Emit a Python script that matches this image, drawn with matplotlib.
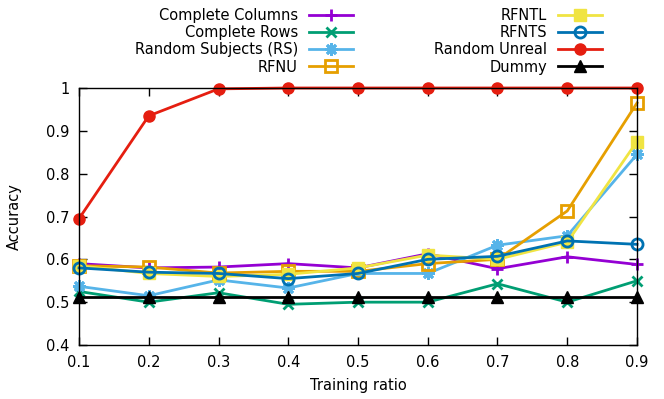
import matplotlib
matplotlib.use("Agg")
import matplotlib.pyplot as plt

ratios = [0.1, 0.2, 0.3, 0.4, 0.5, 0.6, 0.7, 0.8, 0.9]
complete_columns = [0.590, 0.580, 0.582, 0.590, 0.580, 0.613, 0.578, 0.606, 0.588]
complete_rows = [0.525, 0.500, 0.522, 0.495, 0.500, 0.500, 0.543, 0.500, 0.550]
random_subjects = [0.537, 0.515, 0.552, 0.533, 0.567, 0.567, 0.633, 0.655, 0.845]
rfnu = [0.585, 0.582, 0.568, 0.572, 0.572, 0.590, 0.600, 0.713, 0.965]
rfntl = [0.585, 0.567, 0.560, 0.565, 0.580, 0.610, 0.600, 0.640, 0.875]
rfnts = [0.580, 0.570, 0.567, 0.555, 0.567, 0.600, 0.607, 0.643, 0.635]
random_unreal = [0.695, 0.935, 0.998, 1.0, 1.0, 1.0, 1.0, 1.0, 1.0]
dummy = [0.513, 0.513, 0.513, 0.513, 0.513, 0.513, 0.513, 0.513, 0.513]

xticks = [0.1, 0.2, 0.3, 0.4, 0.5, 0.6, 0.7, 0.8, 0.9]
yticks = [0.4, 0.5, 0.6, 0.7, 0.8, 0.9, 1.0]
ytick_labels = ["0.4", "0.5", "0.6", "0.7", "0.8", "0.9", "1"]

plt.rcParams['font.family'] = ['DejaVu Sans']
plt.rcParams['font.size'] = 10.5

fig = plt.figure(figsize=(6.64, 3.99), dpi=100)
ax = fig.add_axes([79/664, 54/399, (637-79)/664, (345-88)/399])

lw = 2.0
series = [
    ("Complete Columns", complete_columns, "#9400d3", dict(marker='+', ms=8, mew=2)),
    ("Complete Rows", complete_rows, "#009e73", dict(marker='x', ms=7, mew=2)),
    ("Random Subjects (RS)", random_subjects, "#56b4e9", dict(marker=(8, 2, 0), ms=9, mew=2)),
    ("RFNU", rfnu, "#e69f00", dict(marker='s', ms=8, mew=2, mfc='none')),
    ("RFNTL", rfntl, "#f0e442", dict(marker='s', ms=9, mew=1)),
    ("RFNTS", rfnts, "#0072b2", dict(marker='o', ms=8, mew=2, mfc='none')),
    ("Random Unreal", random_unreal, "#e51e10", dict(marker='o', ms=8, mew=1)),
    ("Dummy", dummy, "#000000", dict(marker='^', ms=9, mew=1)),
]
for name, vals, col, mk in series:
    ax.plot(ratios, vals, color=col, lw=lw, label=name, clip_on=False, **mk)

ax.set_xlim(0.1, 0.9)
ax.set_ylim(0.4, 1.0)
ax.set_xticks(xticks)
ax.set_xticklabels([f"{t:.1f}" for t in xticks])
ax.set_yticks(yticks)
ax.set_yticklabels(ytick_labels)
ax.tick_params(direction='in', top=True, right=True, length=6, width=1, pad=7)
ax.set_xlabel("Training ratio", labelpad=6)
ax.set_ylabel("Accuracy", labelpad=17)
for s in ax.spines.values():
    s.set_linewidth(1)

handles, labels = ax.get_legend_handles_labels()
leg = fig.legend(handles, labels, ncol=2, loc='upper right',
                 bbox_to_anchor=(602/664, 1 - 8/399),
                 frameon=False, markerfirst=False, handlelength=3.0, labelspacing=0.15,
                 columnspacing=5.6, borderaxespad=0.0, borderpad=0.0, handletextpad=0.75)

fig.savefig("out.png", dpi=100)
